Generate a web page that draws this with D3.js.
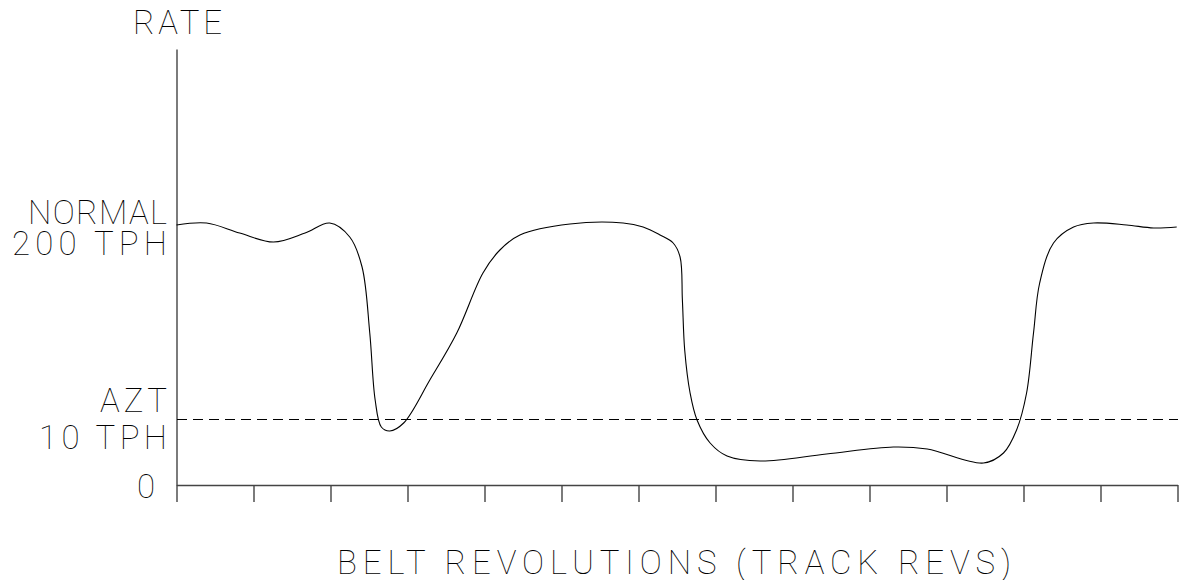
<!DOCTYPE html>
<html lang="en">
<head>
  <meta charset="utf-8">
  <title>belt rate</title>
  <script src="https://d3js.org/d3.v7.min.js"></script>
  <style>
    body { margin: 0; background: #fff; }
    .axis path.domain, .axis line { stroke: #444; stroke-width: 1.4; }
    text.lbl { font-family: Roboto, "DejaVu Sans", sans-serif; font-weight: 100; font-size: 33px; fill: #000; }
  </style>
</head>
<body>
<script>
  // Config
  const width = 1182, height = 580;
  const margin = { top: 49, bottom: 95, left: 176.5, right: 4.5 };

  // Data: belt revolutions (x) vs rate (relative units, 0 at axis)
  const revs = [0, 0.39, 0.82, 1.26, 1.67, 1.99, 2.25, 2.41, 2.51, 2.58, 2.66, 2.77, 2.95,
    3.29, 3.64, 3.98, 4.2, 4.46, 5.11, 5.8, 6.06, 6.28, 6.45, 6.54, 6.57, 6.6, 6.67, 6.76,
    6.93, 7.15, 7.58, 8.44, 9.31, 9.75, 10.48, 10.74, 10.91, 11.04, 11.13, 11.21, 11.39,
    11.65, 11.91, 12.34, 12.69, 12.99];
  const rate = [260, 262, 252, 243, 252, 262, 248, 218, 152, 85, 58, 54, 62,
    105, 152, 212, 235, 250, 261, 262, 258, 250, 242, 228, 185, 135, 92, 65,
    42, 29, 24, 31, 38, 36, 22, 32, 55, 92, 152, 202, 242,
    258, 262, 260, 257, 258];
  const aztLevel = 66;   // dashed line
  const xTicks = d3.range(0, 14);

  // labels: text, left x, right x, baseline
  const labelText = ["RATE", "NORMAL", "200 TPH", "AZT", "10 TPH", "0", "BELT REVOLUTIONS (TRACK REVS)"];
  const labelLeft = [133, 28, 12, 100, 39, 137, 337];
  const labelRight = [222, 167, 167, 167, 167, 152, 1011];
  const labelBase = [34, 224, 255, 412, 449, 498, 574];

  const innerWidth = width - margin.left - margin.right;
  const innerHeight = height - margin.top - margin.bottom;

  const svg = d3.select("body").append("svg")
    .attr("width", width).attr("height", height);

  const x = d3.scaleLinear().domain([0, 13]).range([margin.left, width - margin.right]);
  const y = d3.scaleLinear().domain([0, innerHeight]).range([margin.top + innerHeight, margin.top]);

  // x axis with ticks below
  svg.append("g").attr("class", "axis")
    .attr("transform", `translate(0,${y(0)})`)
    .call(d3.axisBottom(x).tickValues(xTicks).tickSize(17).tickSizeOuter(0).tickFormat(""));

  // y axis plain line
  svg.append("g").attr("class", "axis")
    .attr("transform", `translate(${x(0)},0)`)
    .call(d3.axisLeft(y).tickValues([]).tickSizeOuter(0));

  // AZT dashed line
  svg.append("line")
    .attr("x1", x(0)).attr("x2", x(13))
    .attr("y1", y(aztLevel)).attr("y2", y(aztLevel))
    .attr("stroke", "#000").attr("stroke-width", 1)
    .attr("shape-rendering", "crispEdges")
    .attr("stroke-dasharray", "10,6");

  // rate curve
  const pts = revs.map((r, i) => [r, rate[i]]);
  svg.append("path")
    .datum(pts)
    .attr("fill", "none")
    .attr("stroke", "#000")
    .attr("stroke-width", 1.1)
    .attr("d", d3.line().x(d => x(d[0])).y(d => y(d[1])).curve(d3.curveCatmullRom.alpha(0.5)));

  // labels
  labelText.forEach((t, i) => {
    svg.append("text").attr("class", "lbl")
      .attr("x", labelLeft[i]).attr("y", labelBase[i])
      .attr("textLength", labelRight[i] - labelLeft[i])
      .attr("lengthAdjust", "spacing")
      .text(t);
  });
</script>
</body>
</html>
